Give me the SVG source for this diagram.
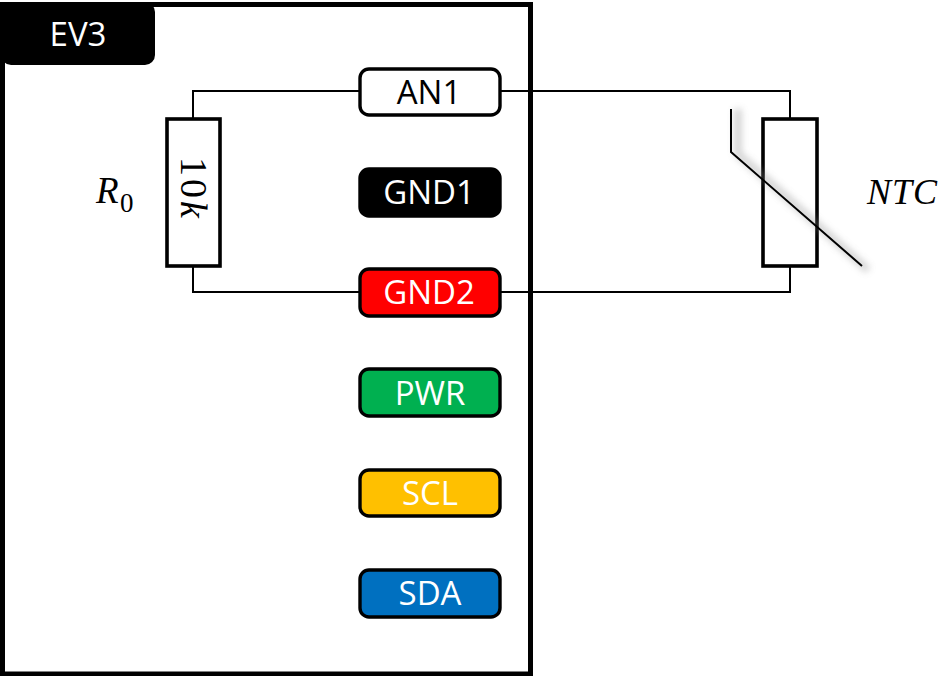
<svg xmlns="http://www.w3.org/2000/svg" width="952" height="676" viewBox="0 0 952 676">
<defs>
<style>
.pin{stroke:#000;stroke-width:3.400}
.lbl{font-family:"Open Sans","Noto Sans",sans-serif;font-size:33px;text-anchor:middle;fill:#fff}
.math{font-family:"Liberation Serif",serif;fill:#000}
.wire{fill:none;stroke:#000;stroke-width:2}
.res{fill:#fff;stroke:#000;stroke-width:3.600}
</style>
<filter id="sh" x="-30%" y="-30%" width="160%" height="160%"><feGaussianBlur stdDeviation="3.500"/></filter>
</defs>
<rect width="952" height="676" fill="#fff"/>
<g id="ev3">
<rect x="2.500" y="4.500" width="528" height="669.500" fill="#fff" stroke="#000" stroke-width="5"/>
<path d="M0 2H145a10 10 0 0 1 10 10V55a10 10 0 0 1-10 10H12a10 10 0 0 1-8-3L0 60Z" fill="#000"/>
<text class="lbl" x="78" y="46">EV3</text>
</g>
<g id="connectors">
<path class="wire" d="M193 118V91H360M500 91H790V118"/>
<path class="wire" d="M193 266V292H360M500 292H790V266"/>
</g>
<g id="r0">
<rect class="res" x="167" y="119" width="53" height="147"/>
<text class="math" font-size="38" letter-spacing="3" transform="translate(180.500 157) rotate(90)">10<tspan font-style="italic">k</tspan></text>
<text class="math" x="96" y="203" font-size="37" font-style="italic">R</text>
<text class="math" x="120" y="212" font-size="27">0</text>
</g>
<g id="ntc">
<rect class="res" x="763" y="119" width="54" height="147"/>
<path d="M738 109V154L868 270" fill="none" stroke="#888" stroke-width="7" opacity=".4" filter="url(#sh)"/>
<path d="M731 109V152L862 266" fill="none" stroke="#000" stroke-width="2"/>
<text class="math" x="867" y="204" font-size="36" font-style="italic" letter-spacing="1">NTC</text>
</g>
<g id="an1"><rect class="pin" x="360" y="69" width="140" height="46" rx="9" fill="#fff"/><text class="lbl" x="429" y="104" style="fill:#000">AN1</text></g>
<g id="gnd1"><rect class="pin" x="360" y="169" width="140" height="47" rx="9" fill="#000"/><text class="lbl" x="429" y="203.500">GND1</text></g>
<g id="gnd2"><rect class="pin" x="360" y="269" width="140" height="47" rx="9" fill="#f00"/><text class="lbl" x="429" y="303.500">GND2</text></g>
<g id="pwr"><rect class="pin" x="360" y="369" width="140" height="47" rx="9" fill="#00b050"/><text class="lbl" x="430" y="405">PWR</text></g>
<g id="scl"><rect class="pin" x="360" y="470" width="140" height="46" rx="9" fill="#ffc000"/><text class="lbl" x="430" y="504.500">SCL</text></g>
<g id="sda"><rect class="pin" x="360" y="570" width="140" height="47" rx="9" fill="#0070c0"/><text class="lbl" x="430" y="605">SDA</text></g>
</svg>
